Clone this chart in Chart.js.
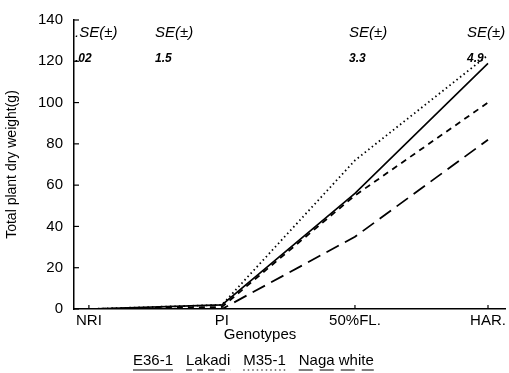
<!DOCTYPE html>
<html>
<head>
<meta charset="utf-8">
<script src="https://cdn.jsdelivr.net/npm/chart.js@4"></script>
<style>
  html, body { margin: 0; padding: 0; background: #fff; }
  #wrap { width: 509px; height: 373px; }
</style>
</head>
<body>
<div id="wrap"><canvas id="myChart" width="509" height="373"></canvas></div>
<script>
"use strict";

// stages on the x axis
var stages = ['NRI', 'PI', '50%FL.', 'HAR.'];

// dry weight per genotype (g)
var e36 = [0, 2, 56, 119];
var lakadi = [0, 1, 55, 100];
var m35 = [0, 2, 72, 123];
var naga = [0, 0, 35, 82];

var yTicks = [0, 20, 40, 60, 80, 100, 120, 140];

// standard errors printed above the plot
var seLabels = ['.SE(\u00b1)', 'SE(\u00b1)', 'SE(\u00b1)', 'SE(\u00b1)'];
var seValues = ['.02', '1.5', '3.3', '4.9'];
var seX = [75, 155, 349, 467];

var FONT = '"Liberation Sans", Arial, sans-serif';

function toPoints(arr) {
  return arr.map(function (v, i) { return { x: i, y: v }; });
}

// inward tick marks, SE notes, x title and the underlined legend
var extras = {
  id: 'extras',
  afterDraw: function (chart) {
    var c = chart.ctx;
    var xs = chart.scales.x, ys = chart.scales.y;
    var area = chart.chartArea;
    c.save();
    c.strokeStyle = '#000';
    c.lineWidth = 1.2;
    c.setLineDash([]);
    yTicks.forEach(function (t) {
      var py = ys.getPixelForValue(t);
      c.beginPath();
      c.moveTo(area.left, py);
      c.lineTo(area.left + 5, py);
      c.stroke();
    });
    stages.forEach(function (s, i) {
      var px = xs.getPixelForValue(i);
      c.beginPath();
      c.moveTo(px, area.bottom);
      c.lineTo(px, area.bottom - 4);
      c.stroke();
    });

    c.fillStyle = '#000';
    c.textBaseline = 'middle';
    c.textAlign = 'left';
    for (var i = 0; i < seLabels.length; i++) {
      c.font = 'italic 15px ' + FONT;
      c.fillText(seLabels[i], seX[i], 33);
      c.font = 'italic bold 12px ' + FONT;
      c.fillText(seValues[i], seX[i], 59);
    }

    // x axis title sits left of the plot centre in the original
    c.textAlign = 'center';
    c.font = '15px ' + FONT;
    c.fillText('Genotypes', 260, 335);

    // legend
    c.textAlign = 'left';
    c.font = '15px ' + FONT;
    var lx = 133;
    chart.data.datasets.forEach(function (ds) {
      var w = c.measureText(ds.label).width;
      c.fillText(ds.label, lx, 361);
      c.beginPath();
      c.lineWidth = 1;
      c.setLineDash(ds.borderDash || []);
      c.moveTo(lx, 370);
      c.lineTo(lx + w, 370);
      c.stroke();
      lx += w + 13;
    });
    c.restore();
  }
};

var ctx = document.getElementById('myChart').getContext('2d');

var chart = new Chart(ctx, {
  type: 'line',
  data: {
    datasets: [
      { label: 'E36-1', data: toPoints(e36), borderColor: '#000', borderWidth: 1.6, borderDash: [] },
      { label: 'Lakadi', data: toPoints(lakadi), borderColor: '#000', borderWidth: 1.8, borderDash: [6, 5] },
      { label: 'M35-1', data: toPoints(m35), borderColor: '#000', borderWidth: 1.8, borderDash: [1.5, 3] },
      { label: 'Naga white', data: toPoints(naga), borderColor: '#000', borderWidth: 1.8, borderDash: [14, 7] }
    ]
  },
  options: {
    responsive: false,
    animation: false,
    elements: { point: { radius: 0 }, line: { tension: 0 } },
    layout: { padding: { top: 18, left: 0, right: 2, bottom: 30 } },
    plugins: {
      legend: { display: false },
      tooltip: { enabled: false }
    },
    scales: {
      x: {
        type: 'linear',
        min: -0.112,
        max: 3.13,
        afterBuildTicks: function (s) {
          s.ticks = stages.map(function (l, i) { return { value: i }; });
        },
        afterFit: function (s) { s.height = 34; },
        grid: { display: false, drawTicks: false },
        border: { display: true, color: '#000', width: 1.5 },
        ticks: {
          color: '#000',
          padding: 3,
          maxRotation: 0,
          autoSkip: false,
          font: { family: FONT, size: 15 },
          callback: function (v) { return stages[v]; }
        }
      },
      y: {
        min: 0,
        max: 140,
        afterBuildTicks: function (s) {
          s.ticks = yTicks.map(function (v) { return { value: v }; });
        },
        afterFit: function (s) { s.width = 74; },
        grid: { display: false, drawTicks: false },
        border: { display: true, color: '#000', width: 1.5 },
        ticks: {
          color: '#000',
          padding: 11,
          font: { family: FONT, size: 15 }
        },
        title: {
          display: true,
          text: 'Total plant dry weight(g)',
          color: '#000',
          padding: { top: 4, bottom: 0 },
          font: { family: FONT, size: 14 }
        }
      }
    }
  },
  plugins: [extras]
});
</script>
</body>
</html>
